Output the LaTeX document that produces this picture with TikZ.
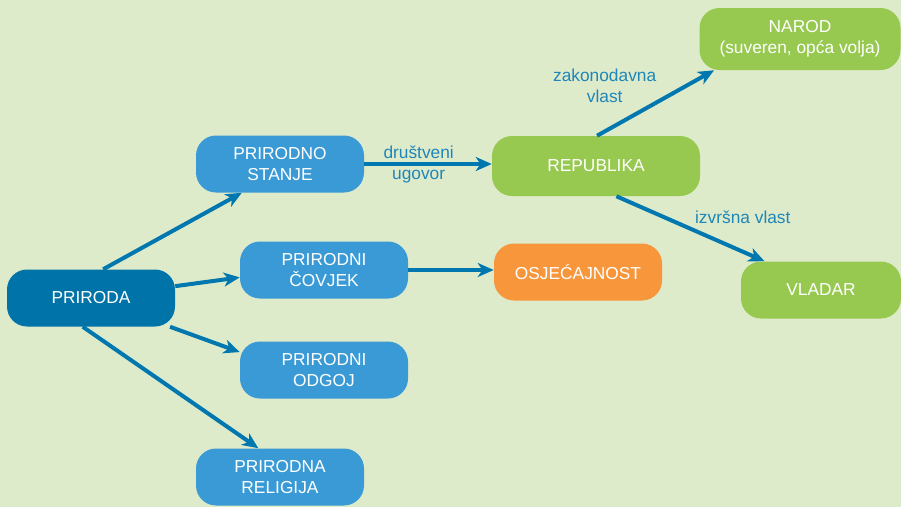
\documentclass[tikz,border=0pt]{standalone}
\usepackage{fontspec}
\setmainfont{Liberation Sans}
\usetikzlibrary{arrows.meta}
\definecolor{pagegreen}{HTML}{DEEBCB}
\definecolor{rootblue}{HTML}{0074A9}
\definecolor{boxblue}{HTML}{3A9AD6}
\definecolor{boxgreen}{HTML}{97C950}
\definecolor{boxorange}{HTML}{F7963A}
\definecolor{arrowblue}{HTML}{0077AF}
\definecolor{labelblue}{HTML}{1F86B8}

\begin{document}
\begin{tikzpicture}[x=0.75pt, y=-0.75pt,
    font=\fontsize{13}{15.75}\selectfont,
    box/.style={rounded corners=15pt, minimum width=126pt, minimum height=42.75pt,
      text=white, align=center, inner sep=0pt},
    root/.style={box, fill=rootblue},
    bluebox/.style={box, fill=boxblue},
    greenbox/.style={box, fill=boxgreen},
    orangebox/.style={box, fill=boxorange},
    link/.style={arrowblue, line width=3pt,
      -{Stealth[length=12pt, width=10.5pt, inset=3.5pt]}},
    linklabel/.style={labelblue, align=center, inner sep=2pt}]
  % --- Background ---
  \fill[pagegreen] (0, 0) rectangle (901, 507);
  \useasboundingbox (0, 0) rectangle (901, 507);

  % --- Left side: nature ---
  \node[root]    (priroda)  at (91, 298)  {PRIRODA};
  \node[bluebox] (stanje)   at (280, 164) {PRIRODNO\\STANJE};
  \node[bluebox] (covjek)   at (324, 270) {PRIRODNI\\ČOVJEK};
  \node[bluebox] (odgoj)    at (324, 370) {PRIRODNI\\ODGOJ};
  \node[bluebox] (religija) at (280, 477) {PRIRODNA\\RELIGIJA};

  % --- Right side: state ---
  \node[orangebox] (osjecaj)   at (578, 272) {OSJEĆAJNOST};
  \node[greenbox, minimum width=156pt, minimum height=45pt]
                   (republika) at (596, 166) {REPUBLIKA};
  \node[greenbox, minimum width=150.75pt, minimum height=46.5pt]
                   (narod)     at (800, 39)  {NAROD\\(suveren, opća volja)};
  \node[greenbox, minimum width=120pt]
                   (vladar)    at (821, 290) {VLADAR};

  % --- Arrows out of PRIRODA ---
  \draw[link] (priroda.67)   -- (stanje.217);
  \draw[link] (priroda.8)    -- (covjek.185);
  \draw[link] (priroda.-20)  -- (odgoj.168);
  \draw[link] (priroda.254)  -- (religija.127);

  % --- Contract and feeling ---
  \draw[link] (stanje.east) -- (republika.west |- stanje.east)
    node[linklabel, midway, xshift=-7pt] {društveni\\ugovor};
  \draw[link] (covjek.east) -- (osjecaj.west |- covjek.east);

  % --- Powers of the republic ---
  \draw[link] (republika.88) -- (narod.200)
    node[linklabel, midway, anchor=south east, xshift=4pt, yshift=-3pt] {zakonodavna\\vlast};
  \draw[link] (republika.-56) -- (vladar.153)
    node[linklabel, midway, anchor=south west] {izvršna vlast};
\end{tikzpicture}
\end{document}
